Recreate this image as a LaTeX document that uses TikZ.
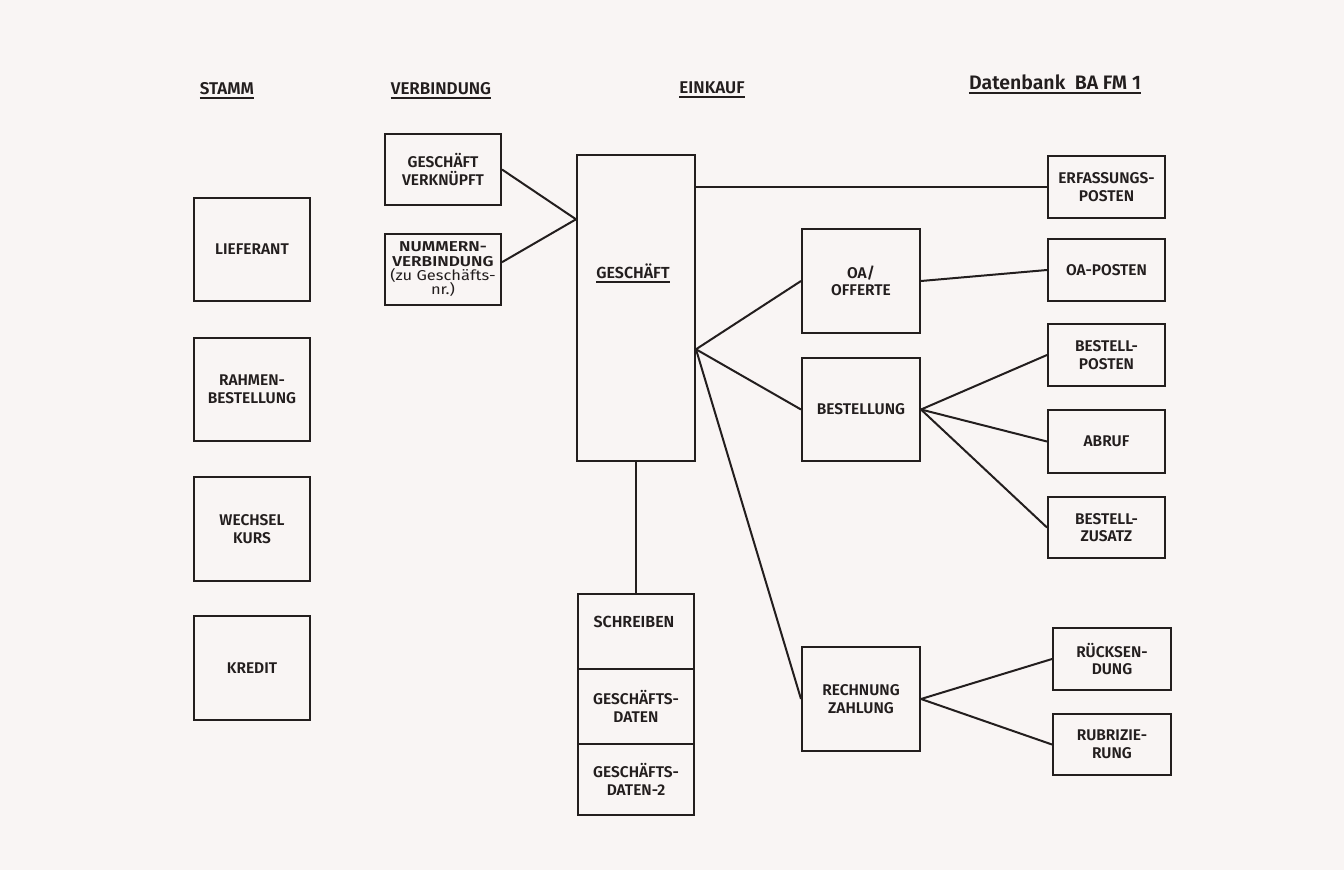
\documentclass[tikz,border=0pt]{standalone}
\usepackage{fontspec}
\setmainfont{Fira Sans}[UprightFont={* SemiBold}, BoldFont={* Bold}]
\newfontfamily\lightf{Fira Sans}[FakeStretch=1.15]
\newfontfamily\nvf{Fira Sans}[UprightFont={* SemiBold}, FakeStretch=1.2]
\usetikzlibrary{calc}
\definecolor{bg}{RGB}{249,245,244}
\definecolor{ink}{RGB}{35,30,30}
\begin{document}
\begin{tikzpicture}[x=1pt,y=-1pt,
  box/.style={draw=ink, line width=2pt, fill=bg, align=center, inner sep=0pt,
    font=\fontsize{15.5}{17.5}\selectfont, text=ink, anchor=north west},
  plain/.style={draw=ink, line width=2pt, fill=bg, inner sep=0pt, anchor=north west},
  conn/.style={draw=ink, line width=2pt},
  head/.style={font=\fontsize{17}{19}\selectfont, text=ink, inner sep=0pt, anchor=base},
  lbl/.style={font=\fontsize{16}{18}\selectfont, text=ink, inner sep=0pt, anchor=base},
  uline/.style={draw=ink, line width=1.5pt}]
\fill[bg] (0,0) rectangle (1344,870);
\useasboundingbox (0,0) rectangle (1344,870);

% headers
\node[head] (hstamm) at (227,94) {STAMM};
\node[head] (hverb) at (441,94) {VERBINDUNG};
\node[head] (heink) at (712,93) {EINKAUF};
\node[head, font=\fontsize{19.5}{22}\selectfont] (hdb) at (1055,89) {Datenbank\ \ BA FM 1};
\foreach \h in {hstamm,hverb,heink,hdb}
  \draw[uline] ([yshift=-4pt]\h.base west) -- ([yshift=-4pt]\h.base east);

% STAMM column
\node[box, minimum width=116pt, minimum height=103pt] (lief) at (193,197) {LIEFERANT};
\node[box, minimum width=116pt, minimum height=103pt] (rahm) at (193,337) {RAHMEN-\\BESTELLUNG};
\node[box, minimum width=116pt, minimum height=104pt] (wech) at (193,476) {WECHSEL\\KURS};
\node[box, minimum width=116pt, minimum height=104pt] (kred) at (193,615) {KREDIT};

% VERBINDUNG column
\node[box, minimum width=116pt, minimum height=71pt] (gv) at (384,133) {GESCH\"AFT\\VERKN\"UPFT};
\node[box, minimum width=116pt, minimum height=71pt, font=\fontsize{14.3}{14.3}\nvf] (nv) at (384,233)
  {NUMMERN-\\VERBINDUNG\\{\lightf(zu Gesch\"afts-}\\{\lightf nr.)}};

% EINKAUF
\node[plain, minimum width=118pt, minimum height=306pt] (gesch) at (576,154) {};
\node[lbl] (geschl) at (633,278) {GESCH\"AFT};
\draw[uline] ([yshift=-4pt]geschl.base west) -- ([yshift=-4pt]geschl.base east);

\node[plain, minimum width=116pt, minimum height=75pt] (schr) at (577,593) {};
\node[lbl] (schrl) at (634,627) {SCHREIBEN};
\node[box, minimum width=116pt, minimum height=75pt] (gd) at (577,668) {GESCH\"AFTS-\\DATEN};
\node[box, minimum width=116pt, minimum height=71pt] (gd2) at (577,743) {GESCH\"AFTS-\\DATEN-2};

\node[box, minimum width=118pt, minimum height=104pt] (oa) at (801,228) {OA/\\OFFERTE};
\node[box, minimum width=118pt, minimum height=103pt] (best) at (801,357) {BESTELLUNG};
\node[box, minimum width=118pt, minimum height=104pt] (rech) at (801,646) {RECHNUNG\\ZAHLUNG};

% Datenbank column
\node[box, minimum width=117pt, minimum height=62pt] (erf) at (1047,155) {ERFASSUNGS-\\POSTEN};
\node[box, minimum width=117pt, minimum height=62pt] (oap) at (1047,238) {OA-POSTEN};
\node[box, minimum width=117pt, minimum height=62pt] (bp) at (1047,323) {BESTELL-\\POSTEN};
\node[box, minimum width=117pt, minimum height=63pt] (abr) at (1047,409) {ABRUF};
\node[box, minimum width=117pt, minimum height=61pt] (bz) at (1047,496) {BESTELL-\\ZUSATZ};
\node[box, minimum width=118pt, minimum height=62pt] (rueck) at (1052,627) {R\"UCKSEN-\\DUNG};
\node[box, minimum width=118pt, minimum height=61pt] (rubr) at (1052,713) {RUBRIZIE-\\RUNG};

% connectors
\coordinate (gin) at ($(gesch.north west)!0.212!(gesch.south west)$);
\coordinate (gout) at ($(gesch.north east)!0.634!(gesch.south east)$);
\draw[conn] (gv.east) -- (gin);
\draw[conn] ($(nv.north east)!0.4!(nv.south east)$) -- (gin);
\draw[conn] (gesch.east |- erf.west) -- (erf.west);
\draw[conn] (gout) -- (oa.west);
\draw[conn] (gout) -- (best.west);
\draw[conn] (gout) -- (rech.west);
\draw[conn] (gesch.south -| schr.north) -- (schr.north);
\draw[conn] (oa.east) -- (oap.west);
\draw[conn] (best.east) -- (bp.west);
\draw[conn] (best.east) -- (abr.west);
\draw[conn] (best.east) -- (bz.west);
\draw[conn] (rech.east) -- (rueck.west);
\draw[conn] (rech.east) -- (rubr.west);
\end{tikzpicture}
\end{document}
